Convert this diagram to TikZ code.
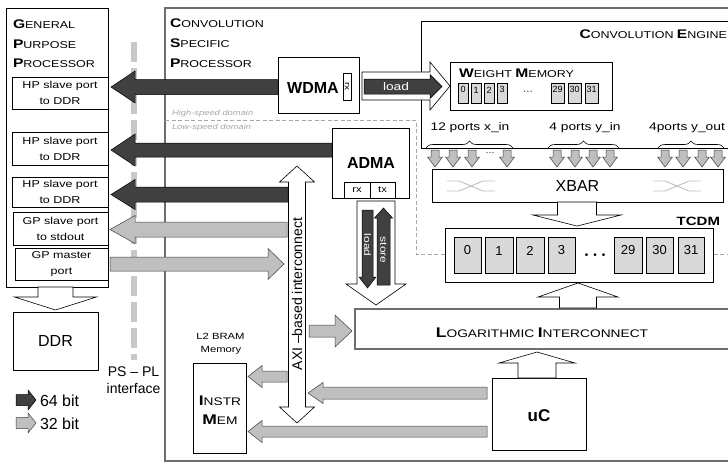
\documentclass[tikz,border=0pt]{standalone}
\usepackage{fontspec}
\setmainfont{Liberation Sans}
\newfontfamily\wf[FakeStretch=1.25]{Liberation Sans}
\usetikzlibrary{decorations.pathreplacing,fit}
\definecolor{darkg}{HTML}{404040}
\definecolor{lightg}{HTML}{BFBFBF}
\definecolor{cellg}{HTML}{D9D9D9}
\definecolor{dashg}{HTML}{C8C8C8}
\definecolor{borderg}{HTML}{6E6E6E}
\definecolor{domg}{HTML}{A8A8A8}
\newcommand{\fs}[2]{\fontsize{#1}{#2}\selectfont}
\newcommand{\scT}[2]{{\fs{12.5}{15}\bfseries #1}{\fs{10}{15}#2}}
\newcommand{\scB}[2]{{\fs{14}{15}\bfseries #1}{\fs{11}{15}#2}}
\newcommand{\harr}[7]{\draw[#7] (#1,#4-#5) -- (#2,#4-#5) -- (#2,#4-#6) -- (#3,#4) -- (#2,#4+#6) -- (#2,#4+#5) -- (#1,#4+#5) -- cycle;}
\newcommand{\varr}[7]{\draw[#7] (#4-#5,#1) -- (#4-#5,#2) -- (#4-#6,#2) -- (#4,#3) -- (#4+#6,#2) -- (#4+#5,#2) -- (#4+#5,#1) -- cycle;}
\begin{document}
\begin{tikzpicture}[x=1pt,y=-1pt,
  box/.style={draw=black,line width=0.6pt,fill=white,inner sep=0pt},
  dk/.style={fill=darkg,draw=black,line width=0.5pt},
  lt/.style={fill=lightg,draw=darkg,line width=0.5pt},
  hol/.style={fill=white,draw=black,line width=0.6pt},
  cellbox/.style={draw=black,fill=cellg,line width=0.5pt,inner sep=0pt},
  txt/.style={inner sep=0pt,outer sep=0pt},
  mtxt/.style={inner sep=0pt,outer sep=0pt,align=center,font=\wf\fs{10}{16}},
  gb/.style={draw=borderg,line width=1.3pt},
  xcross/.style={draw=lightg,line width=0.9pt},
]
\useasboundingbox (0,0) rectangle (728,464);
\fill[white] (0,0) rectangle (728,464);

% outer frames
\draw[gb] (731,8) -- (165,8) -- (165,461) -- (731,461);
\draw[dashg,line width=6pt,dash pattern=on 20pt off 6pt] (134,42) -- (134,360);
\draw[domg,line width=0.6pt,dash pattern=on 4pt off 2.5pt] (165,120) -- (416,120) -- (416,254) -- (731,254);
\draw[line width=0.6pt] (731,21) -- (421,21) -- (421,148) -- (731,148);
\draw[gb] (731,309) -- (355,309) -- (355,349) -- (731,349);

% general purpose processor
\node[box,fit={(6,8) (108,287)}] (gpp) {};
\node[box,fit={(12,77) (108,109)}] (hp1) {};
\node[box,fit={(12,132) (108,165)}] (hp2) {};
\node[box,fit={(12,177) (108,207)}] (hp3) {};
\node[box,fit={(13,212) (108,245)}] (gps) {};
\node[box,fit={(15,248) (108,280)}] (gpm) {};
\node[mtxt] (hp1t) at (hp1.center) {HP slave port\\to DDR};
\node[mtxt] (hp2t) at (hp2.center) {HP slave port\\to DDR};
\node[mtxt] (hp3t) at (hp3.center) {HP slave port\\to DDR};
\node[mtxt] (gpst) at (gps.center) {GP slave port\\to stdout};
\node[mtxt] (gpmt) at (gpm.center) {GP master\\port};
\node[box,fit={(13,312) (98,370)}] (ddr) {};
\node[txt,font=\fs{16}{16}] (ddrt) at (ddr.center) {DDR};
\node[txt,anchor=base west,font=\wf] (gt1) at (13,28) {\scT{G}{ENERAL}};
\node[txt,anchor=base west,font=\wf] (gt2) at (13,48) {\scT{P}{URPOSE}};
\node[txt,anchor=base west,font=\wf] (gt3) at (13,67) {\scT{P}{ROCESSOR}};

% convolution specific processor titles
\node[txt,anchor=base west,font=\wf] (ct1) at (170,27) {\scT{C}{ONVOLUTION}};
\node[txt,anchor=base west,font=\wf] (ct2) at (170,47) {\scT{S}{PECIFIC}};
\node[txt,anchor=base west,font=\wf] (ct3) at (170,67) {\scT{P}{ROCESSOR}};
\node[txt,anchor=base east,font=\wf] (cet) at (727,38) {\scT{C}{ONVOLUTION} \scT{E}{NGINE}};
\node[txt,anchor=base west,font=\wf\itshape\fs{7.5}{8},text=domg] (hsd) at (172,115) {High-speed domain};
\node[txt,anchor=base west,font=\wf\itshape\fs{7.5}{8},text=domg] (lsd) at (172,129) {Low-speed domain};

% WDMA
\node[box,fit={(278,57) (359,113)}] (wdma) {};
\node[txt,anchor=base,font=\bfseries\fs{16}{16}] (wdmat) at (313,93) {WDMA};
\node[box,fit={(343,73) (351,100)}] (wrx) {};
\node[txt,rotate=-90,font=\wf\fs{8}{8}] (wrxt) at (wrx.center) {rx};

% weight memory
\node[box,fit={(450,62) (612,110)}] (wm) {};
\node[txt,anchor=base west,font=\wf] (wmt) at (459,77) {\scT{W}{EIGHT} \scT{M}{EMORY}};
\node[cellbox,fit={(458,83) (468,103)},font=\fs{9}{9}] (w0) {0};
\node[cellbox,fit={(471,83) (481,103)},font=\fs{9}{9}] (w1) {1};
\node[cellbox,fit={(484,83) (494,103)},font=\fs{9}{9}] (w2) {2};
\node[cellbox,fit={(497,83) (507,103)},font=\fs{9}{9}] (w3) {3};
\node[txt,font=\fs{10}{10}] (wdots) at (528,93) {···};
\node[cellbox,fit={(551,83) (564,103)},font=\fs{9}{9}] (w29) {29};
\node[cellbox,fit={(568,83) (581,103)},font=\fs{9}{9}] (w30) {30};
\node[cellbox,fit={(585,83) (598,103)},font=\fs{9}{9}] (w31) {31};

% ADMA
\node[box,fit={(332,128) (409,198)}] (adma) {};
\node[txt,anchor=base,font=\bfseries\fs{16}{16}] (admat) at (371,168) {ADMA};
\node[box,fit={(344,182) (370,198)}] (arx) {};
\node[box,fit={(370,182) (395,198)}] (atx) {};
\node[txt,font=\wf\fs{9}{9}] (arxt) at (arx.center) {rx};
\node[txt,font=\wf\fs{9}{9}] (atxt) at (atx.center) {tx};

% braces and ports
\draw[line width=0.6pt,decorate,decoration={brace,amplitude=7pt}] (426,148) -- (513,148);
\draw[line width=0.6pt,decorate,decoration={brace,amplitude=7pt}] (548,148) -- (619,148);
\draw[line width=0.6pt,decorate,decoration={brace,amplitude=7pt}] (658,148) -- (724,148);
\node[txt,anchor=base,font=\wf\fs{11}{12}] (bx) at (470,130) {12 ports x\_in};
\node[txt,anchor=base,font=\wf\fs{11}{12}] (byi) at (585,130) {4 ports y\_in};
\node[txt,anchor=base,font=\wf\fs{11}{12}] (byo) at (687,130) {4ports y\_out};
\foreach \px in {435,453,472,507,557,575,593,610,665,683,702,718} {\varr{150}{157}{167}{\px}{4}{7.5}{lt}}
\node[txt,font=\fs{9}{9}] (pdots) at (490,154) {···};

% XBAR
\node[box,fit={(432,169) (723,202)}] (xbar) {};
\node[txt,font=\fs{16}{16}] (xbart) at (xbar.center) {XBAR};
\draw[xcross] (447,181) -- (459,181) -- (483,191) -- (495,191);
\draw[xcross] (447,191) -- (459,191) -- (483,181) -- (495,181);
\draw[xcross] (653,181) -- (665,181) -- (689,191) -- (701,191);
\draw[xcross] (653,191) -- (665,191) -- (689,181) -- (701,181);

% TCDM
\node[txt,anchor=base east,font=\wf\bfseries\fs{12}{12}] (tcdmt) at (720,225) {TCDM};
\node[box,fit={(445,228) (713,282)}] (tcdm) {};
\node[cellbox,fit={(454,237) (481,273)},font=\fs{13}{13}] (t0) {0};
\node[cellbox,fit={(485,237) (513,273)},font=\fs{13}{13}] (t1) {1};
\node[cellbox,fit={(516,237) (544,273)},font=\fs{13}{13}] (t2) {2};
\node[cellbox,fit={(548,237) (575,273)},font=\fs{13}{13}] (t3) {3};
\node[txt,font=\fs{10}{10}] (tdots) at (595,256) {\textbullet\hspace{5pt}\textbullet\hspace{5pt}\textbullet};
\node[cellbox,fit={(614,237) (642,273)},font=\fs{13}{13}] (t29) {29};
\node[cellbox,fit={(646,237) (673,273)},font=\fs{13}{13}] (t30) {30};
\node[cellbox,fit={(678,237) (704,273)},font=\fs{13}{13}] (t31) {31};

% logarithmic interconnect, uC, instr mem
\node[txt,anchor=base,font=\wf] (logt) at (542,337) {\scB{L}{OGARITHMIC} \scB{I}{NTERCONNECT}};
\node[box,fit={(492,378) (586,450)}] (uc) {};
\node[txt,anchor=base,font=\bfseries\fs{17}{17}] (uct) at (539,421) {uC};
\node[box,fit={(193,363) (246,453)}] (imem) {};
\node[txt,anchor=base,font=\wf] (imt1) at (220,405) {\scB{I}{NSTR}};
\node[txt,anchor=base,font=\wf] (imt2) at (220,424) {\scB{M}{EM}};
\node[txt,anchor=base,font=\wf\fs{9}{9}] (l2a) at (220.5,339) {L2 BRAM};
\node[txt,anchor=base,font=\wf\fs{9}{9}] (l2b) at (221,352) {Memory};

% 64-bit connectors
\harr{278}{135}{111}{87}{7.5}{16}{dk}
\harr{332}{135}{111}{150}{7}{16}{dk}
\harr{288}{135}{111}{194.5}{7.5}{15}{dk}
% 32-bit connectors
\harr{287}{135}{110}{229.5}{7.5}{14}{lt}
\harr{110}{268}{284}{264}{7}{15.5}{lt}
\harr{309}{335}{352}{331}{6}{16}{lt}
\harr{287}{262}{248}{376.5}{5.5}{11}{lt}
\harr{487}{323}{308}{393}{6}{10.5}{lt}
\harr{487}{262}{248}{431.5}{5.5}{11}{lt}

% load to weight memory
\harr{362}{430}{450}{86}{14}{24}{hol}
\harr{364}{430}{442}{86.5}{7.5}{12}{dk}
\node[txt,font=\wf\fs{11}{11},text=white] (loadw) at (396,87) {load};

% hollow bus arrows
\varr{287}{297}{310}{55.5}{17.5}{41}{hol}
\varr{202}{215}{226}{577}{19.5}{44}{hol}
\varr{308}{297}{283}{578}{18.5}{40}{hol}
\varr{378}{363}{352}{537}{19}{38}{hol}
\varr{201}{284}{305}{376}{19}{30}{hol}
\varr{210}{277}{288}{367.5}{5.5}{8.5}{dk}
\varr{285}{218}{208}{383.5}{6.5}{9}{dk}
\node[txt,rotate=-90,font=\wf\fs{9.5}{9.5},text=white] (loada) at (367.5,245) {load};
\node[txt,rotate=-90,font=\wf\fs{9.5}{9.5},text=white] (storea) at (383.5,250) {store};

% AXI interconnect
\draw[hol] (288.5,182) -- (279.5,182) -- (297,166) -- (314.5,182) -- (305.5,182) -- (305.5,407) -- (314.5,407) -- (297,423) -- (279.5,407) -- (288.5,407) -- cycle;
\node[txt,rotate=90,font=\fs{14}{14}] (axit) at (297,294) {AXI –based interconnect};

% PS-PL interface and legend
\node[txt,anchor=base,font=\fs{14}{14}] (psa) at (133.5,376) {PS – PL};
\node[txt,anchor=base,font=\fs{14}{14}] (psb) at (133.5,393) {interface};
\harr{16}{28}{36}{400}{5.5}{10}{dk}
\harr{16}{28}{36}{423}{5.5}{10}{lt}
\node[txt,anchor=base west,font=\fs{16}{16}] (l64) at (40,406) {64 bit};
\node[txt,anchor=base west,font=\fs{16}{16}] (l32) at (40,429) {32 bit};
\end{tikzpicture}
\end{document}
